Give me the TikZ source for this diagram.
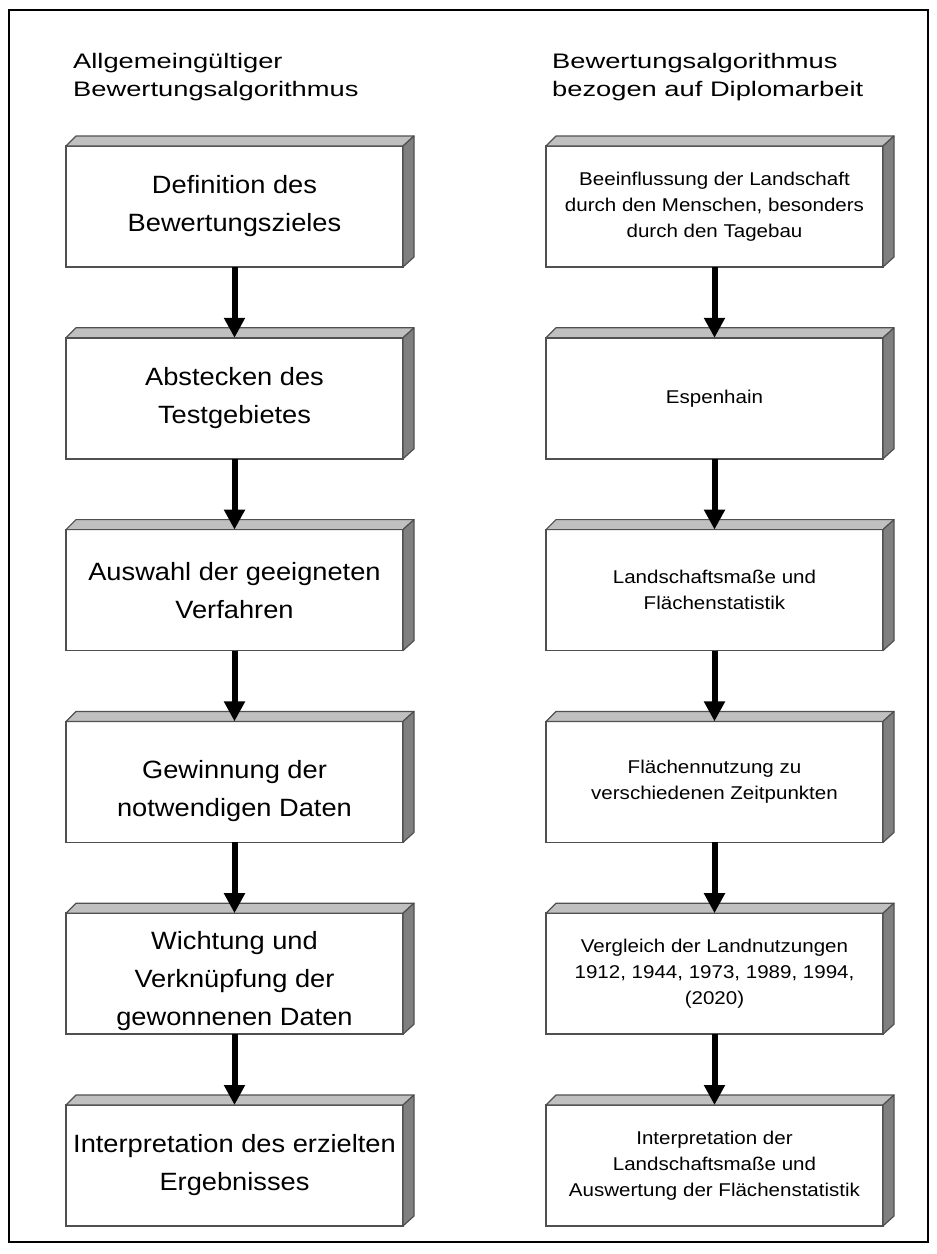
\documentclass[tikz,border=0pt]{standalone}
\usepackage{fontspec}
\setmainfont{Liberation Sans}
\newfontfamily\hdrfont[FakeStretch=1.3]{Liberation Sans}
\newfontfamily\lboxfont[FakeStretch=1.09]{Liberation Sans}
\newfontfamily\rboxfont[FakeStretch=1.11]{Liberation Sans}
\usetikzlibrary{arrows.meta}
\definecolor{topgray}{HTML}{C0C0C0}
\definecolor{sidegray}{HTML}{808080}
\definecolor{edgegray}{HTML}{505050}
\tikzset{
  boxbase/.style={rectangle, draw=edgegray, line width=1.5pt, fill=white,
    minimum width=337pt, minimum height=121pt, inner sep=0pt, outer sep=0pt, align=center},
  lbox/.style={boxbase, font={\lboxfont\fontsize{25}{38}\selectfont}},
  rbox/.style={boxbase, font={\rboxfont\fontsize{18.5}{26}\selectfont}},
  header/.style={anchor=north west, align=left, inner sep=0pt, font={\hdrfont\fontsize{21}{28}\selectfont}},
  topface/.style={fill=topgray, draw=edgegray, line width=1.2pt, line join=round},
  sideface/.style={fill=sidegray, draw=edgegray, line width=1.2pt, line join=round},
  flowarrow/.style={line width=6pt, -{Triangle[width=20pt,length=20pt]}},
  frame/.style={draw=black, line width=2pt}
}
\begin{document}
\begin{tikzpicture}[x=1pt,y=1pt]
\useasboundingbox (0,0) rectangle (937,-1254);
\draw[frame] (9,-10) rectangle (928,-1242);

\node[header] (HL) at (73,-53) {Allgemeingültiger\\Bewertungsalgorithmus};
\node[header] (HR) at (552,-53) {Bewertungsalgorithmus\\bezogen auf Diplomarbeit};

\node[lbox] (L1) at (234.5,-206.5) {Definition des\\Bewertungszieles};
\node[lbox] (L2) at (234.5,-398.3) {Abstecken des\\Testgebietes};
\node[lbox] (L3) at (234.5,-590.1) {Auswahl der geeigneten\\Verfahren};
\node[lbox] (L4) at (234.5,-781.9) {\rule{0pt}{37pt}Gewinnung der\\notwendigen Daten};
\node[lbox] (L5) at (234.5,-973.7) {\rule{0pt}{33pt}Wichtung und\\Verknüpfung der\\gewonnenen Daten};
\node[lbox] (L6) at (234.5,-1165.5) {Interpretation des erzielten\\Ergebnisses};

\node[rbox] (R1) at (714.5,-206.5) {Beeinflussung der Landschaft\\durch den Menschen, besonders\\durch den Tagebau};
\node[rbox] (R2) at (714.5,-398.3) {Espenhain};
\node[rbox] (R3) at (714.5,-590.1) {Landschaftsmaße und\\Flächenstatistik};
\node[rbox] (R4) at (714.5,-781.9) {Flächennutzung zu\\verschiedenen Zeitpunkten};
\node[rbox] (R5) at (714.5,-973.7) {Vergleich der Landnutzungen\\1912, 1944, 1973, 1989, 1994,\\(2020)};
\node[rbox] (R6) at (714.5,-1165.5) {Interpretation der\\Landschaftsmaße und\\Auswertung der Flächenstatistik};

\foreach \n in {L1,L2,L3,L4,L5,L6,R1,R2,R3,R4,R5,R6}{
  \draw[topface] (\n.north west) -- ++(10,10) -- ([shift={(11,10)}]\n.north east) -- (\n.north east) -- cycle;
  \draw[sideface] (\n.north east) -- ++(11,10) -- ([shift={(11,10)}]\n.south east) -- (\n.south east) -- cycle;
}

\foreach \a/\b in {L1/L2,L2/L3,L3/L4,L4/L5,L5/L6,R1/R2,R2/R3,R3/R4,R4/R5,R5/R6}{
  \draw[flowarrow] (\a.south) -- (\b.north);
}
\end{tikzpicture}
\end{document}
